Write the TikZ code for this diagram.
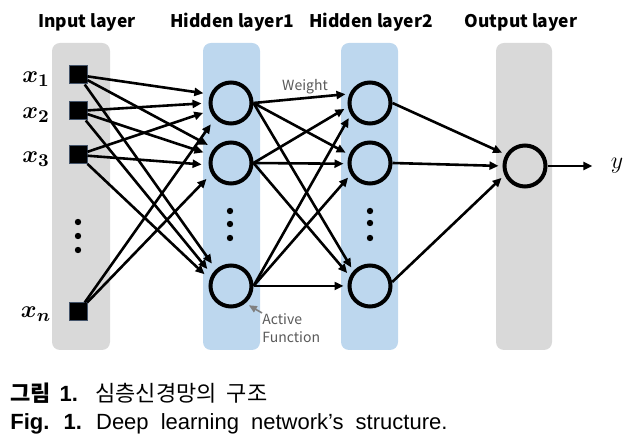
\documentclass[tikz,border=0pt]{standalone}
\usepackage{bm}
\usepackage[no-math]{fontspec}
\setmainfont{Liberation Sans}
\newfontfamily\krfont{Noto Sans CJK KR}
\usepackage{tikz}
\usetikzlibrary{shapes,arrows.meta,positioning}
\usetikzlibrary{calc}
\definecolor{layergray}{HTML}{D9D9D9}
\definecolor{layerblue}{HTML}{BDD7EE}
\definecolor{notegray}{HTML}{595959}
\definecolor{unitedge}{HTML}{44546A}

\begin{document}
\begin{tikzpicture}[x=0.5pt, y=-0.5pt,
        neuron/.style={circle, draw, line width=2pt, minimum size=20.5pt, inner sep=0pt},
        inunit/.style={rectangle, fill=black, draw=unitedge, line width=0.5pt, minimum size=9pt, inner sep=0pt},
        wire/.style={-{Triangle[length=4.5pt,width=4pt]}, line width=1.3pt, shorten >=2pt},
        column/.style={rounded corners=4pt},
        title/.style={font=\krfont\bfseries\fontsize{8.7}{10}\selectfont},
        varlbl/.style={font=\fontsize{13}{15}\selectfont, inner sep=0pt},
        note/.style={text=notegray, font=\krfont\fontsize{7}{9}\selectfont, inner sep=0pt}]
        \useasboundingbox (0,0) rectangle (642,442);

        % Layer backgrounds
        \fill[layergray, column] (52,43) rectangle (110,350);
        \fill[layerblue, column] (203,43) rectangle (260,350);
        \fill[layerblue, column] (341,43) rectangle (398,350);
        \fill[layergray, column] (496,43) rectangle (552,350);

        % Layer titles
        \node[title] (tin) at (87,22) {Input layer};
        \node[title] (thid1) at (232,22) {Hidden layer1};
        \node[title] (thid2) at (371,22) {Hidden layer2};
        \node[title] (tout) at (521,22) {Output layer};

        % Input units
        \node[inunit] (x1) at (78,75) {};
        \node[inunit] (x2) at (78,111) {};
        \node[inunit] (x3) at (78,155) {};
        \node[inunit] (xn) at (78,312) {};
        \node[varlbl] (lx1) at (36,79) {$\bm{x_1}$};
        \node[varlbl] (lx2) at (36,115) {$\bm{x_2}$};
        \node[varlbl] (lx3) at (36,159) {$\bm{x_3}$};
        \node[varlbl] (lxn) at (36,314) {$\bm{x_n}$};

        % Hidden and output neurons
        \node[neuron] (h11) at (231,103) {};
        \node[neuron] (h12) at (231,163) {};
        \node[neuron] (h1n) at (231,286) {};
        \node[neuron] (h21) at (370,103) {};
        \node[neuron] (h22) at (370,163) {};
        \node[neuron] (h2n) at (370,286) {};
        \node[neuron] (out) at (525,166) {};
        \node[varlbl] (yout) at (617,166) {$y$};

        % Vertical dots
        \foreach \dx/\dy in {78/222, 78/236, 78/250, 230/211, 230/224, 230/238, 370/211, 370/223, 370/238}
            \fill (\dx,\dy) circle (1.6pt);

        % Input -> hidden layer1
        \begin{scope}[every path/.style={wire, shorten >=3.5pt}]
            \draw (x1) -- (h11.157);
            \draw (x2) -- (h11.180);
            \draw (x3) -- (h11.200);
            \draw (xn) -- (h11.224);
            \draw (x1) -- (h12.139);
            \draw (x2) -- (h12.158);
            \draw (x3) -- (h12.185);
            \draw (xn) -- (h12.209);
            \draw (x1) -- (h1n.132);
            \draw (x2) -- (h1n.149);
            \draw (x3) -- (h1n.162);
        \end{scope}

        % Hidden layer1 -> hidden layer2
        \draw[wire] (h11.east) -- (h21.156);
        \draw[wire] (h11.east) -- (h22.158);
        \draw[wire] (h11.east) -- (h2n.138);
        \draw[wire] (h12.east) -- (h21.190);
        \draw[wire] (h12.east) -- (h22.182);
        \draw[wire] (h12.east) -- (h2n.154);
        \draw[wire] (h1n.east) -- (h21.211);
        \draw[wire] (h1n.east) -- (h22.211);
        \draw[wire] (h1n.east) -- (h2n.180);

        % Hidden layer2 -> output
        \draw[wire] (h21.east) -- (out.149);
        \draw[wire] (h22.east) -- (out.180);
        \draw[wire] (h2n.10) -- (out.204);
        \draw[wire, shorten >=9pt] (out.east) -- (yout);

        % Notes
        \node[note] (wlbl) at (305,87) {Weight};
        \node[note, align=left, anchor=north west] (act) at (262,313) {Active\\Function};
        \draw[-{Triangle[length=4pt,width=3.5pt]}, gray, line width=0.8pt, shorten >=2pt] (act.north west) -- (h1n.-50);

        % Caption
        \node[anchor=base west, inner sep=0pt, font=\fontsize{11}{13}\selectfont] (capkr) at (10,402)
            {\spaceskip=0.4em {\krfont\bfseries 그림} \textbf{1.}\hspace{0.3em} {\krfont\spaceskip=0.45em 심층신경망의 구조}};
        \node[anchor=base west, inner sep=0pt, font=\fontsize{11}{13}\selectfont] (capen) at (10,430)
            {\spaceskip=0.55em \textbf{Fig. 1.} Deep learning network’s structure.};
    \end{tikzpicture}
\end{document}
